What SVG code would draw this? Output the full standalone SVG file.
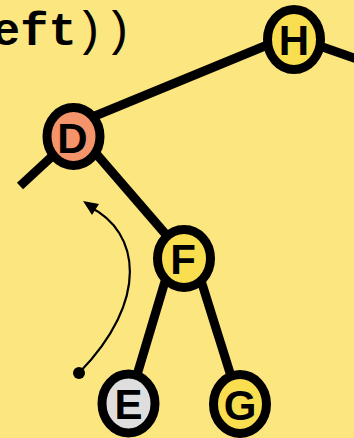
<svg xmlns="http://www.w3.org/2000/svg" width="354" height="438" viewBox="0 0 354 438">
<defs>
<style>
.edge{stroke:#000;stroke-width:9;fill:none;stroke-linecap:butt}
.node{stroke:#000;stroke-width:9}
.lbl{font-family:"Liberation Sans",Arial,sans-serif;font-weight:bold;font-size:42px;text-anchor:middle;fill:#000}
.code{font-family:"Liberation Mono","Courier New",monospace;font-size:48px;fill:#000}
</style>
</defs>
<rect width="354" height="438" fill="#FCE680"/>
<text class="code" y="45"><tspan x="-8" font-size="47" font-weight="bold">eft</tspan><tspan x="75">)</tspan><tspan x="104">)</tspan></text>
<g id="connectors">
<line class="edge" x1="73" y1="125" x2="294" y2="34"/>
<line class="edge" x1="294" y1="37" x2="360" y2="60"/>
<line class="edge" x1="73" y1="137" x2="20" y2="186"/>
<line class="edge" x1="80" y1="135" x2="175" y2="245"/>
<line class="edge" x1="172" y1="258" x2="128" y2="405"/>
<line class="edge" x1="194" y1="258" x2="240" y2="405"/>
<path d="M79,373 C150,300 140,232 90,207" fill="none" stroke="#000" stroke-width="2.2"/>
<path d="M83,201 L99,204 L92,215 z" fill="#000"/>
<circle cx="79" cy="373" r="6" fill="#000"/>
</g>
<g id="H"><ellipse class="node" cx="294" cy="39.5" rx="26.5" ry="30" fill="#F9DE4F"/><text class="lbl" x="294" y="54.5">H</text></g>
<g id="D"><ellipse class="node" cx="73.5" cy="136.5" rx="26.5" ry="29" fill="#F5936A"/><text class="lbl" x="72.5" y="152.5">D</text></g>
<g id="F"><ellipse class="node" cx="184" cy="258.5" rx="26.5" ry="29" fill="#F9DE4F"/><text class="lbl" x="183" y="274">F</text></g>
<g id="E"><ellipse class="node" cx="128.5" cy="403.5" rx="26.5" ry="29.5" fill="#DEDEDE"/><text class="lbl" x="128.5" y="419">E</text></g>
<g id="G"><ellipse class="node" cx="240" cy="404" rx="26.5" ry="29.5" fill="#F9DE4F"/><text class="lbl" x="240" y="419.5">G</text></g>
</svg>
